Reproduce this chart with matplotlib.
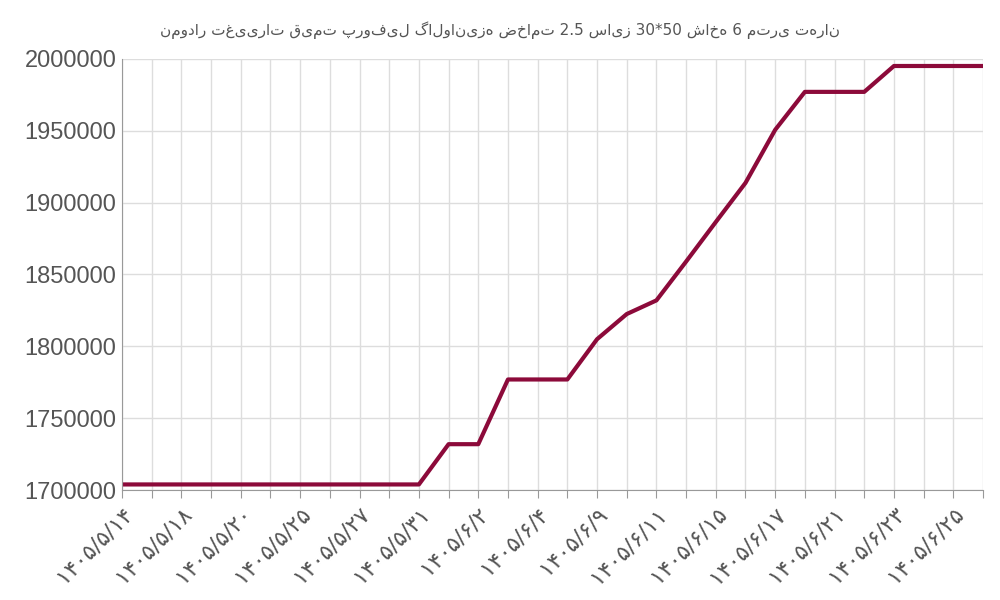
import matplotlib
matplotlib.use("Agg")
import matplotlib.pyplot as plt
from matplotlib.ticker import FuncFormatter

dates = ["۱۴۰۵/۵/۱۴","۱۴۰۵/۵/۱۶","۱۴۰۵/۵/۱۸","۱۴۰۵/۵/۱۹","۱۴۰۵/۵/۲۰","۱۴۰۵/۵/۲۲",
         "۱۴۰۵/۵/۲۵","۱۴۰۵/۵/۲۶","۱۴۰۵/۵/۲۷","۱۴۰۵/۵/۲۸","۱۴۰۵/۵/۳۱","۱۴۰۵/۶/۱",
         "۱۴۰۵/۶/۲","۱۴۰۵/۶/۳","۱۴۰۵/۶/۴","۱۴۰۵/۶/۸","۱۴۰۵/۶/۹","۱۴۰۵/۶/۱۰",
         "۱۴۰۵/۶/۱۱","۱۴۰۵/۶/۱۲","۱۴۰۵/۶/۱۵","۱۴۰۵/۶/۱۶","۱۴۰۵/۶/۱۷","۱۴۰۵/۶/۱۸",
         "۱۴۰۵/۶/۲۱","۱۴۰۵/۶/۲۲","۱۴۰۵/۶/۲۳","۱۴۰۵/۶/۲۴","۱۴۰۵/۶/۲۵","۱۴۰۵/۶/۲۶"]
prices = [1704000]*11 + [1732000, 1732000, 1777000, 1777000, 1777000, 1805000, 1822500,
          1832000, 1859000, 1886500, 1913700, 1950600, 1977000, 1977000, 1977000,
          1995000, 1995000, 1995000, 1995000]
title = "نمودار تغییرات قیمت پروفیل گالوانیزه ضخامت 2.5 سایز 30*50 شاخه 6 متری تهران"

plt.rcParams['font.family'] = ['Liberation Sans', 'DejaVu Sans']
fig = plt.figure(figsize=(10, 6), dpi=100)
ax = fig.add_axes([0.122, 0.183, 0.861, 0.719])
x = list(range(len(dates)))
ax.plot(x, prices, color="#8c0a3a", lw=3)
ax.set_xlim(0, len(dates) - 1)
ax.set_ylim(1700000, 2000000)
ax.set_yticks(range(1700000, 2000001, 50000))
ax.yaxis.set_major_formatter(FuncFormatter(lambda v, p: f"{int(v)}"))
ax.set_xticks(x)
ax.set_xticklabels([d if i % 2 == 0 else "" for i, d in enumerate(dates)],
                   rotation=45, ha="right", rotation_mode="anchor",
                   fontsize=16, color="#555555", family=['DejaVu Sans'])
ax.tick_params(axis='y', labelsize=17, labelcolor="#555555", length=0, pad=4)
ax.tick_params(axis='x', length=6, color="#999999")
ax.grid(True, color="#dddddd", lw=1)
for s in ["top", "right"]:
    ax.spines[s].set_visible(False)
for s in ["left", "bottom"]:
    ax.spines[s].set_color("#999999")
fig.text(0.5, 0.95, title, ha="center", va="center", fontsize=11,
         color="#555555", family=['DejaVu Sans'])
fig.savefig("out.png")
